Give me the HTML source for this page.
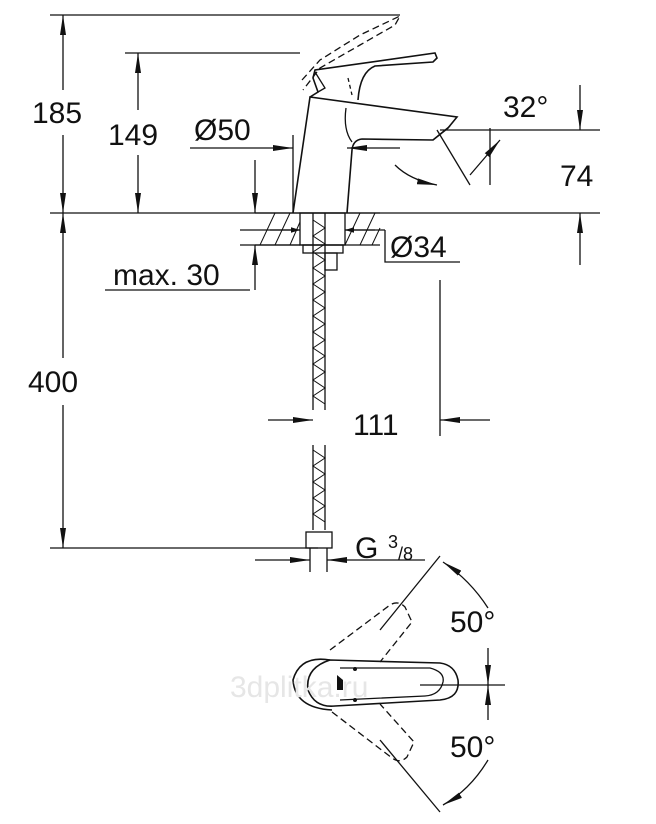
<!DOCTYPE html>
<html><head><meta charset="utf-8"><style>
html,body{margin:0;padding:0;background:#fff}
svg{display:block}
text{font-family:"Liberation Sans",Arial,sans-serif;font-size:30px;fill:#111}
</style></head><body>
<svg width="656" height="824" viewBox="0 0 656 824" xmlns="http://www.w3.org/2000/svg">
<defs>
<marker id="a" viewBox="0 0 10 10" refX="10" refY="5" markerWidth="9" markerHeight="9" orient="auto-start-reverse" markerUnits="userSpaceOnUse"><path d="M0,2 L10,5 L0,8z" fill="#111"/></marker>
<marker id="b" viewBox="0 0 20 10" refX="20" refY="5" markerWidth="20" markerHeight="10" orient="auto-start-reverse" markerUnits="userSpaceOnUse"><path d="M0,2 L20,5 L0,8z" fill="#111"/></marker>
</defs>
<g stroke="#111" stroke-width="1.3" fill="none">
<line x1="50" y1="15" x2="400" y2="15"/>
<line x1="125" y1="53" x2="300" y2="53"/>
<line x1="50" y1="213" x2="600" y2="213"/>
<line x1="50" y1="548" x2="318" y2="548"/>
<line x1="63" y1="15" x2="63" y2="90" marker-start="url(#b)"/>
<line x1="63" y1="135" x2="63" y2="213" marker-end="url(#b)"/>
<line x1="138" y1="53" x2="138" y2="110" marker-start="url(#b)"/>
<line x1="138" y1="155" x2="138" y2="213" marker-end="url(#b)"/>
<line x1="63" y1="213" x2="63" y2="358" marker-start="url(#b)"/>
<line x1="63" y1="405" x2="63" y2="548" marker-end="url(#b)"/>
<line x1="190" y1="148" x2="293" y2="148" marker-end="url(#b)"/>
<line x1="400" y1="148" x2="347" y2="148" marker-end="url(#b)"/>
<line x1="293" y1="135" x2="293" y2="213"/>
<line x1="440" y1="130" x2="600" y2="130"/>
<line x1="580" y1="85" x2="580" y2="130" marker-end="url(#b)"/>
<line x1="580" y1="265" x2="580" y2="213" marker-end="url(#b)"/>
<line x1="255" y1="160" x2="255" y2="213" marker-end="url(#b)"/>
<line x1="255" y1="290" x2="255" y2="245" marker-end="url(#b)"/>
<line x1="105" y1="290" x2="250" y2="290"/>
<line x1="240" y1="245" x2="300" y2="245"/>
<!-- faucet body -->
<path d="M293,213 L310,97 L457,117 L448,128 L433,140 L362,139 Q353,140 352,150 L347,213" stroke-width="1.6"/>
<path d="M346,108 Q343,130 352,142"/>
<path d="M433,140 L450,126"/>
<path d="M310,97 L318,92 L313,78 L315,70 L435,53 L437,58 L433,62 L375,66 Q360,72 358,100" stroke-width="1.6"/>
<path d="M318,92 L325,88 L315,72"/>
<path d="M302,80 L320,60 L360,35 L400,16 L395,25 L360,45 L320,68 L303,90" stroke-dasharray="7,4"/>
<path d="M348,78 L352,95" stroke-dasharray="4,3"/>
<path d="M437,130 L470,185"/>
<path d="M440,130 L440,130 M490,128 L490,185"/>
<line x1="470" y1="175" x2="500" y2="140" marker-end="url(#b)"/>
<path d="M395,165 Q410,180 437,185" marker-end="url(#b)"/>
<!-- counter -->
<rect x="300" y="213" width="45" height="32"/>
<line x1="240" y1="230" x2="300" y2="230"/>
<line x1="345" y1="230" x2="385" y2="230"/>
<path d="M385,230 L385,262 L460,262"/>
<line x1="270" y1="230" x2="300" y2="230" marker-end="url(#a)"/>
<line x1="375" y1="230" x2="345" y2="230" marker-end="url(#a)"/>
<line x1="255" y1="213" x2="380" y2="213"/>
<line x1="255" y1="245" x2="380" y2="245"/>
<g stroke-width="1">
<line x1="260" y1="245" x2="275" y2="213"/><line x1="275" y1="245" x2="290" y2="213"/><line x1="290" y1="245" x2="300" y2="222"/>
<line x1="345" y1="245" x2="360" y2="213"/><line x1="360" y1="245" x2="375" y2="213"/><line x1="372" y1="245" x2="380" y2="228"/>
</g>
<rect x="303" y="245" width="40" height="8"/>
<rect x="325" y="253" width="12" height="17"/>
<path d="M313,213 L313,410 M325,213 L325,410 M313,445 L313,530 M325,445 L325,530" />
<path d="M313,220 L325,228 L313,236 L325,244 L313,252 L325,260 L313,268 L325,276 L313,284 L325,292 L313,300 L325,308 L313,316 L325,324 L313,332 L325,340 L313,348 L325,356 L313,364 L325,372 L313,380 L325,388 L313,396 L325,404 M313,450 L325,458 L313,466 L325,474 L313,482 L325,490 L313,498 L325,506 L313,514 L325,522" stroke-width="1"/>
<rect x="306" y="532" width="26" height="16"/>
<line x1="310" y1="548" x2="310" y2="572"/><line x1="327" y1="548" x2="327" y2="572"/>
<line x1="440" y1="280" x2="440" y2="436"/>
<line x1="268" y1="420" x2="313" y2="420" marker-end="url(#b)"/>
<line x1="490" y1="420" x2="440" y2="420" marker-end="url(#b)"/>
<line x1="255" y1="560" x2="310" y2="560" marker-end="url(#b)"/>
<line x1="425" y1="560" x2="327" y2="560" marker-end="url(#b)"/>
<!-- plan view -->
<path d="M330,660 Q300,655 293,680 Q295,708 332,710" stroke-width="1.6"/>
<path d="M330,660 Q305,668 308,690 Q315,708 335,706 L440,700 Q460,698 458,680 Q455,665 440,663 Z" stroke-width="1.6"/>
<path d="M340,668 L430,668 Q445,672 443,682 Q440,695 425,696 L340,700"/>
<path d="M330,650 L390,605 Q398,600 405,607 L412,622 L380,662" stroke-dasharray="7,4"/>
<path d="M332,712 L392,758 Q400,764 407,757 L414,742 L380,704" stroke-dasharray="7,4"/>
<line x1="420" y1="685" x2="505" y2="685"/>
<line x1="440" y1="556" x2="380" y2="630"/>
<line x1="440" y1="812" x2="380" y2="740"/>
<path d="M488,608 Q470,580 443,562" marker-end="url(#b)"/>
<path d="M488,648 L488,685" marker-end="url(#b)"/>
<path d="M488,720 L488,685" marker-end="url(#b)"/>
<path d="M488,760 Q470,790 443,805" marker-end="url(#b)"/>
</g>
<circle cx="355" cy="669" r="2" fill="#111"/><circle cx="355" cy="700" r="2" fill="#111"/>
<path d="M337,675 L343,680 L343,690 L337,690Z" fill="#111"/>
<text x="32" y="123">185</text>
<text x="108" y="145">149</text>
<text x="28" y="392">400</text>
<text x="194" y="140">Ø50</text>
<text x="503" y="117">32°</text>
<text x="560" y="186">74</text>
<text x="390" y="257">Ø34</text>
<text x="113" y="285">max. 30</text>
<text x="353" y="435">111</text>
<text x="355" y="558">G</text>
<text x="388" y="548" style="font-size:18px">3</text>
<text x="398" y="560" style="font-size:18px">/8</text>
<text x="450" y="632">50°</text>
<text x="450" y="757">50°</text>
<text x="230" y="697" style="font-size:30px;fill:#e6e6e6">3dplitka.ru</text>
</svg>
</body></html>
